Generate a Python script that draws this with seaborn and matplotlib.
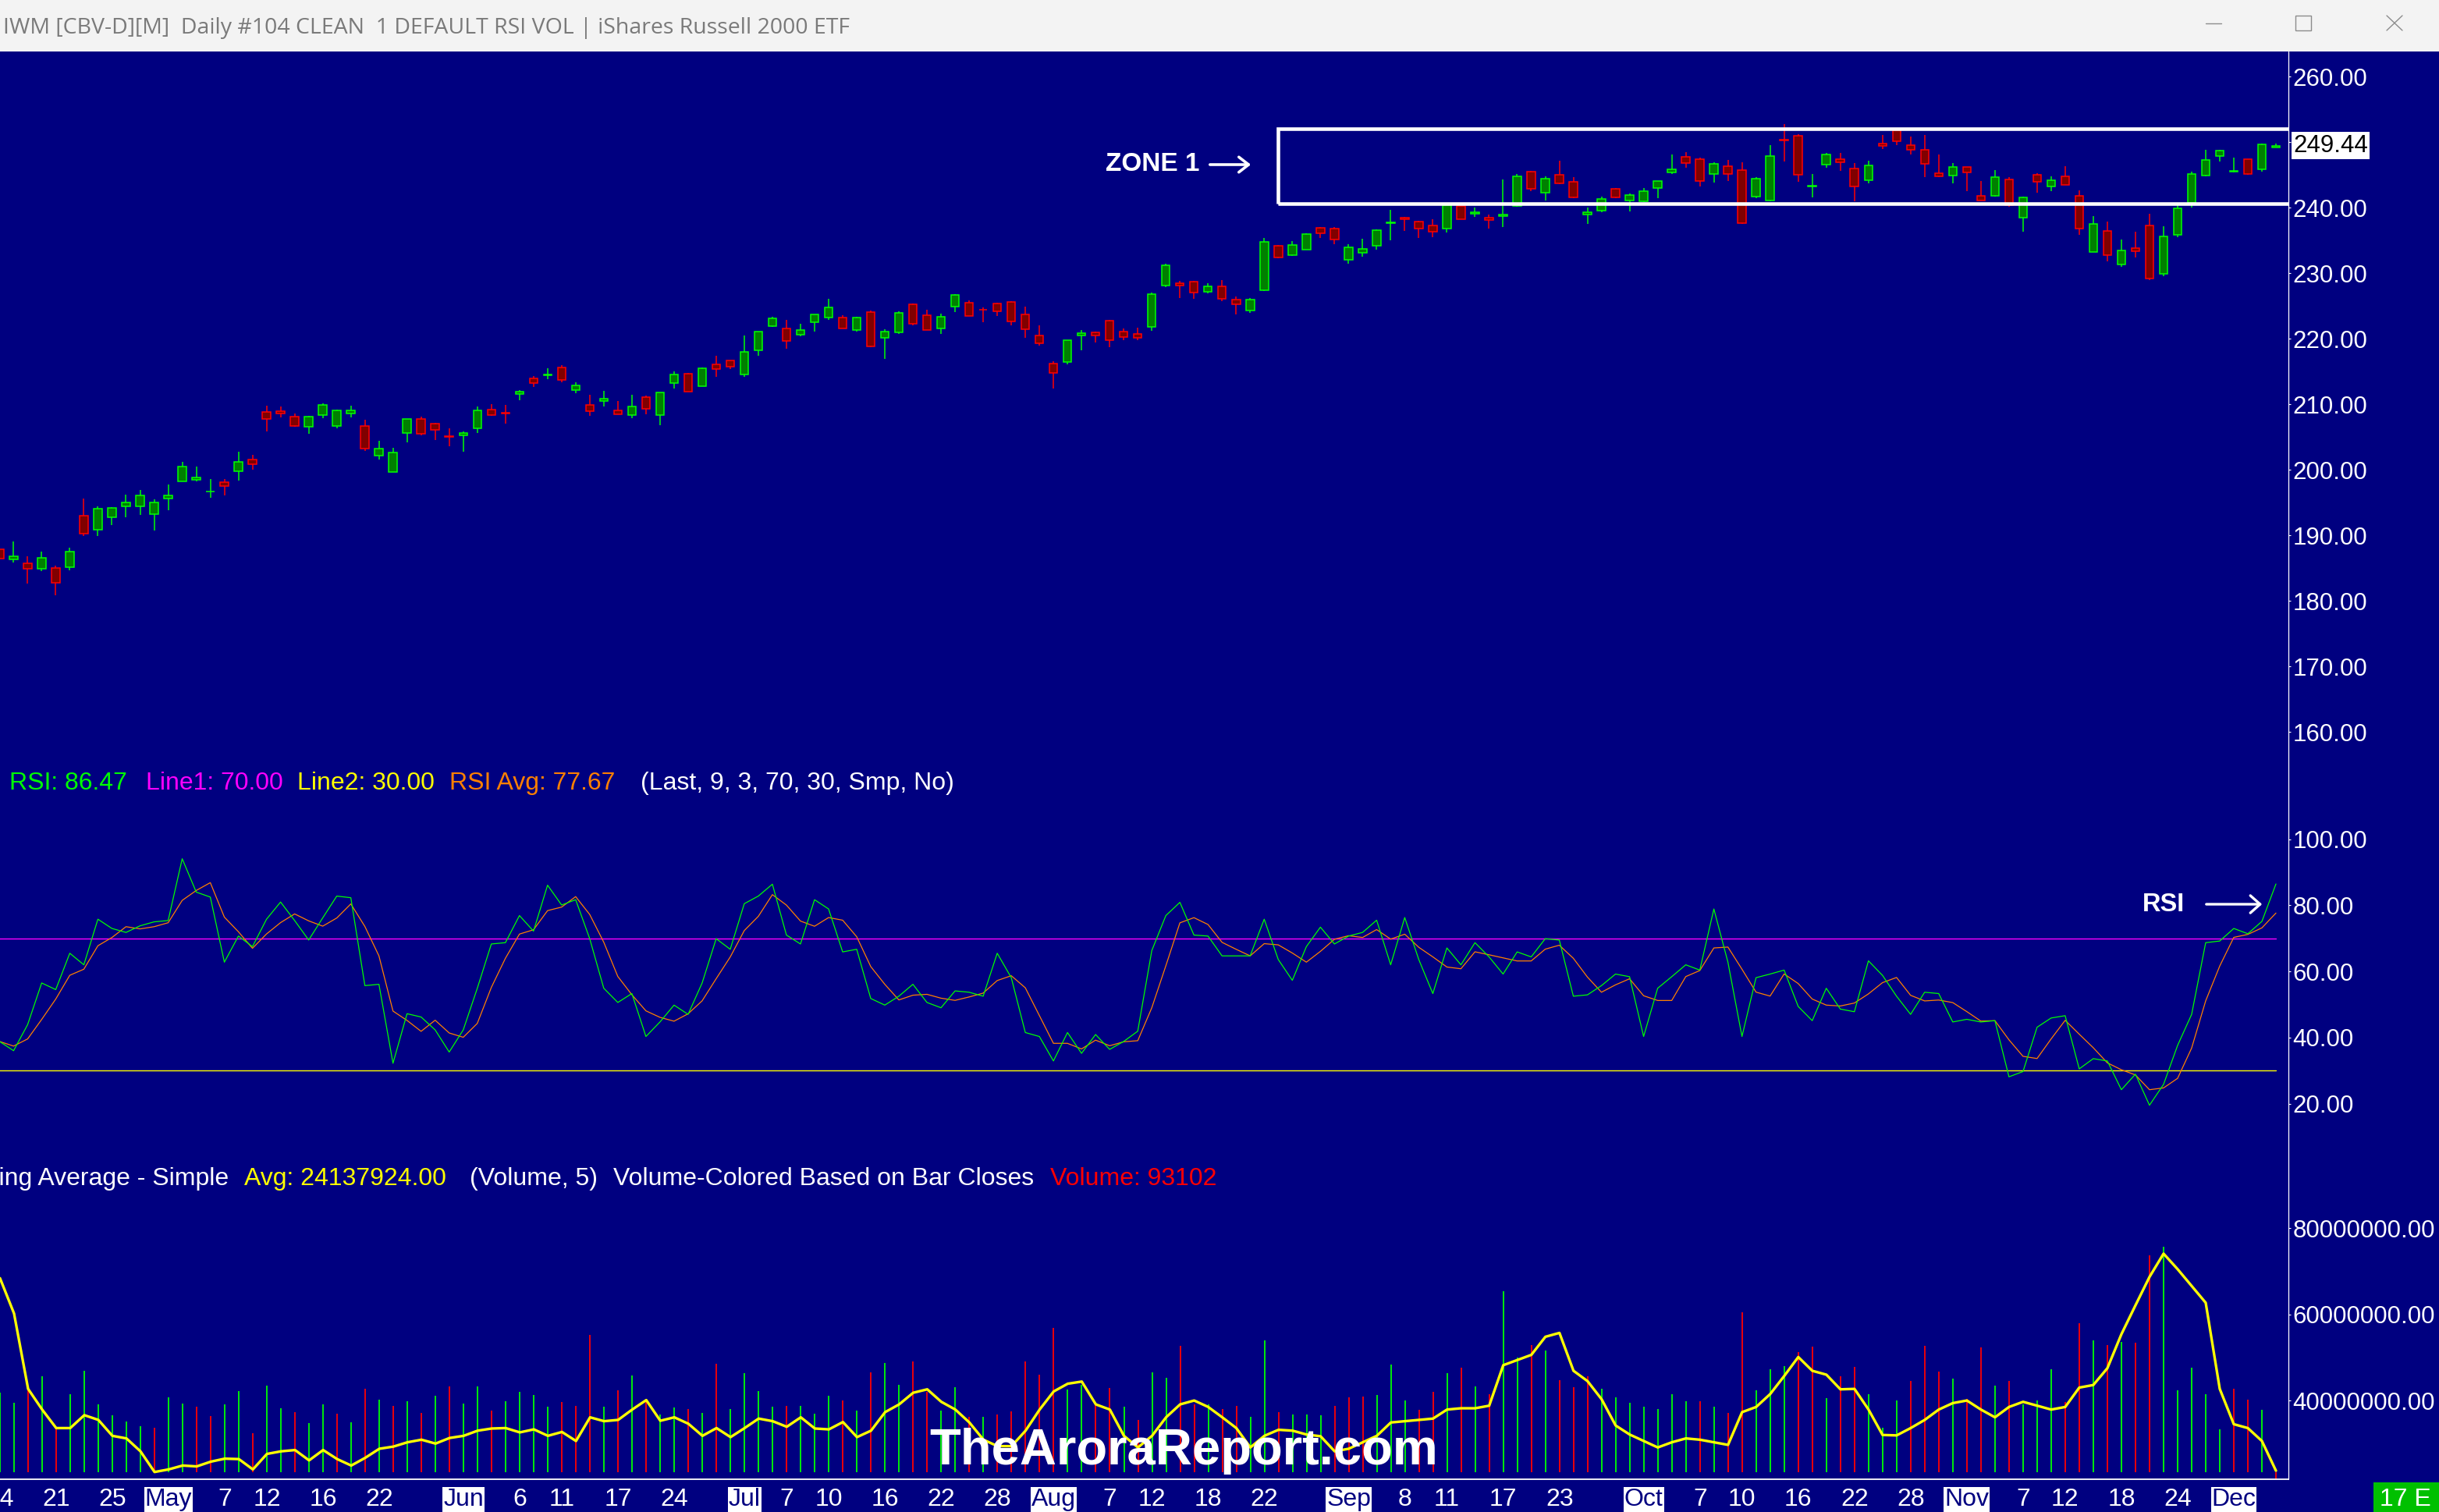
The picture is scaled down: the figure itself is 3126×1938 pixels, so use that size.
import numpy as np
import pandas as pd
import matplotlib
matplotlib.use("Agg")
import matplotlib.pyplot as plt
import matplotlib.transforms as mtransforms
from matplotlib.patches import Rectangle, FancyArrowPatch
from matplotlib.lines import Line2D
import seaborn as sns

# ------------------------------
# Data: IWM daily bars, Apr 14 -> Dec 4
# ------------------------------
opens = [187.82, 186.35, 185.67, 184.92, 184.96, 185.16, 192.94, 190.79, 192.70, 194.44,
         194.44, 193.17, 195.63, 198.25, 198.49, 196.63, 198.05, 199.72, 201.51, 208.77,
         208.89, 208.06, 206.51, 208.37, 206.71, 208.61, 206.63, 202.18, 199.68, 205.63,
         207.70, 206.98, 205.12, 205.28, 206.35, 209.13, 208.69, 211.51, 213.89, 214.44,
         215.56, 212.10, 209.84, 210.44, 209.01, 208.37, 211.03, 208.37, 213.25, 214.60,
         212.78, 216.03, 216.63, 214.56, 218.25, 221.94, 221.51, 220.56, 222.54, 223.25,
         223.17, 221.35, 224.05, 220.16, 220.99, 225.20, 223.53, 221.59, 224.84, 225.44,
         224.45, 225.32, 225.56, 223.65, 220.44, 216.15, 216.47, 220.52, 220.91, 222.70,
         221.03, 220.68, 221.83, 228.14, 228.41, 228.65, 227.18, 227.94, 225.91, 224.33,
         227.34, 234.13, 232.78, 233.61, 236.87, 236.75, 231.99, 233.14, 234.21, 237.66,
         238.45, 237.82, 237.22, 236.75, 240.20, 239.09, 238.41, 238.73, 240.24, 245.48,
         242.22, 244.96, 243.89, 238.89, 239.56, 242.82, 241.03, 240.91, 242.94, 245.32,
         247.70, 247.34, 245.16, 246.27, 245.67, 241.71, 241.11, 250.36, 250.95, 243.25,
         246.59, 247.34, 245.91, 244.21, 249.72, 251.75, 249.52, 248.77, 245.20, 244.92,
         246.15, 241.79, 241.83, 244.29, 238.41, 244.96, 243.25, 244.72, 241.75, 233.25,
         236.39, 231.27, 233.77, 237.22, 229.92, 235.87, 240.71, 244.92, 247.90, 245.52,
         247.34, 245.87, 249.13]
highs = [188.00, 189.05, 186.75, 187.50, 185.36, 188.10, 195.56, 194.36, 194.29, 196.19,
         196.90, 195.48, 197.74, 201.15, 200.48, 198.57, 198.57, 202.74, 202.22, 209.76,
         209.60, 208.53, 208.17, 210.12, 209.17, 209.76, 207.58, 204.40, 203.33, 207.78,
         208.10, 207.14, 206.27, 205.83, 209.60, 210.04, 209.88, 212.14, 214.28, 215.48,
         215.95, 213.33, 211.43, 212.02, 210.48, 211.43, 211.27, 211.83, 215.00, 214.80,
         215.60, 217.38, 216.71, 220.48, 221.11, 223.33, 222.86, 222.26, 223.73, 226.11,
         223.53, 223.37, 224.25, 221.39, 224.13, 225.36, 224.37, 223.77, 226.75, 225.83,
         224.72, 225.48, 225.71, 224.84, 222.02, 216.51, 219.80, 221.27, 221.07, 222.86,
         221.51, 221.67, 226.99, 231.43, 228.81, 228.81, 228.49, 228.93, 226.39, 226.23,
         235.36, 234.29, 234.84, 236.07, 236.99, 237.03, 234.37, 235.24, 236.71, 239.64,
         238.61, 237.94, 238.22, 240.52, 240.32, 240.00, 238.93, 244.29, 245.08, 245.60,
         244.76, 247.14, 244.60, 240.00, 241.63, 242.94, 242.10, 242.98, 244.09, 248.10,
         248.45, 247.62, 246.87, 247.22, 246.87, 244.60, 249.52, 252.74, 251.19, 245.08,
         248.33, 248.33, 246.79, 247.14, 251.03, 251.83, 250.83, 251.03, 248.06, 246.75,
         246.19, 244.09, 245.67, 244.68, 241.71, 245.28, 244.76, 246.27, 242.58, 238.69,
         237.82, 235.12, 236.35, 239.05, 237.14, 240.32, 245.48, 248.81, 248.85, 247.66,
         247.38, 249.72, 249.76]
lows = [183.17, 185.87, 182.66, 184.56, 180.87, 184.68, 189.92, 189.92, 191.59, 192.70,
        193.10, 190.71, 193.81, 198.17, 198.17, 195.75, 196.11, 198.33, 200.04, 205.87,
        207.98, 206.59, 205.48, 207.90, 206.31, 207.98, 202.90, 201.55, 199.68, 204.17,
        205.24, 204.56, 203.60, 202.74, 205.60, 208.25, 207.02, 210.63, 212.62, 213.85,
        213.33, 211.71, 208.25, 209.68, 208.49, 207.90, 208.49, 206.79, 212.42, 211.86,
        212.70, 214.21, 215.36, 214.21, 217.42, 221.79, 218.49, 220.36, 221.07, 222.86,
        221.51, 221.07, 218.69, 216.91, 220.76, 222.06, 221.27, 220.76, 224.05, 223.41,
        222.54, 223.45, 222.06, 220.16, 218.93, 212.42, 216.11, 218.25, 219.45, 218.65,
        219.80, 219.80, 221.23, 227.90, 226.19, 226.07, 226.95, 225.71, 223.73, 223.89,
        227.22, 232.26, 232.66, 233.57, 235.40, 234.45, 231.47, 232.54, 233.61, 235.04,
        236.47, 235.40, 235.52, 236.23, 238.17, 238.61, 236.83, 237.02, 240.16, 242.54,
        241.11, 243.57, 241.43, 237.54, 239.33, 241.43, 239.44, 240.83, 241.43, 245.08,
        246.07, 243.25, 243.85, 244.09, 237.54, 241.43, 240.91, 247.06, 243.97, 241.51,
        246.07, 245.56, 240.99, 243.69, 248.97, 249.52, 248.14, 244.64, 244.68, 243.69,
        242.50, 241.03, 241.71, 240.12, 236.35, 242.30, 242.50, 243.41, 235.87, 233.17,
        231.79, 230.99, 232.38, 228.93, 229.56, 235.48, 240.00, 244.76, 247.06, 245.36,
        245.00, 245.48, 249.13]
closes = [186.47, 186.75, 184.92, 186.51, 182.70, 187.46, 190.20, 194.01, 194.13, 194.96,
          196.03, 194.96, 196.03, 200.44, 198.85, 196.71, 197.46, 201.15, 200.79, 207.78,
          208.61, 206.71, 208.06, 209.84, 209.01, 209.01, 203.17, 203.17, 202.58, 207.70,
          205.52, 206.11, 205.04, 205.63, 209.01, 208.37, 208.53, 211.86, 213.25, 214.52,
          213.65, 212.82, 208.89, 210.79, 208.49, 209.60, 209.25, 211.75, 214.48, 211.94,
          215.44, 215.40, 215.75, 217.94, 221.03, 223.06, 219.68, 221.27, 223.65, 224.72,
          221.59, 223.17, 218.77, 221.03, 223.89, 222.30, 221.35, 223.29, 226.63, 223.49,
          224.37, 224.13, 222.66, 221.47, 219.33, 214.80, 219.72, 220.79, 220.52, 219.80,
          220.28, 220.16, 226.75, 231.15, 228.14, 227.06, 227.94, 226.11, 225.28, 225.91,
          234.72, 232.34, 234.25, 235.91, 236.11, 235.08, 233.89, 233.65, 236.51, 237.74,
          238.18, 236.75, 236.35, 240.32, 238.25, 239.25, 238.13, 238.93, 244.76, 242.90,
          244.37, 243.73, 241.51, 239.25, 241.27, 241.51, 241.90, 242.46, 244.01, 245.79,
          246.75, 244.09, 246.63, 245.08, 237.66, 244.37, 247.82, 250.28, 244.96, 243.33,
          248.06, 246.94, 243.25, 246.39, 249.37, 250.16, 248.85, 246.71, 244.80, 246.15,
          245.40, 241.11, 244.60, 240.32, 241.51, 243.97, 244.13, 243.49, 236.75, 237.46,
          232.70, 233.41, 233.37, 229.13, 235.56, 239.84, 245.08, 247.22, 248.65, 245.60,
          245.08, 249.60, 249.44]

# RSI(9) as drawn (green line)
rsi = [38.8, 36.0, 43.9, 56.5, 54.5, 65.5, 62.0, 75.8, 73.0, 71.8,
       73.8, 75.0, 75.4, 94.1, 84.0, 82.5, 62.8, 70.7, 67.5, 75.8,
       81.0, 75.4, 69.5, 76.2, 82.8, 82.3, 55.7, 56.1, 32.2, 47.2,
       46.2, 42.3, 35.6, 42.3, 54.9, 68.3, 68.7, 76.9, 72.2, 86.1,
       80.1, 81.7, 69.9, 54.9, 50.6, 53.3, 40.3, 44.7, 49.8, 47.0,
       56.5, 69.9, 66.7, 80.5, 82.8, 86.4, 71.0, 68.3, 81.7, 78.9,
       65.9, 66.7, 51.8, 49.8, 52.5, 56.1, 50.6, 49.0, 54.1, 53.7,
       52.5, 65.5, 58.1, 41.5, 40.3, 32.9, 41.5, 35.2, 40.9, 36.4,
       38.8, 41.9, 66.3, 76.9, 80.9, 71.0, 70.7, 64.7, 64.7, 64.7,
       75.8, 63.6, 57.3, 67.5, 73.4, 68.3, 70.7, 71.8, 75.5, 62.0,
       76.3, 63.6, 53.3, 67.1, 62.0, 68.7, 64.4, 59.2, 65.9, 64.4,
       69.9, 69.5, 52.5, 52.9, 55.7, 59.2, 58.4, 40.3, 54.9, 58.4,
       62.0, 60.4, 78.9, 62.8, 40.3, 58.1, 59.2, 60.4, 49.4, 45.1,
       54.9, 48.6, 47.8, 63.2, 58.8, 52.5, 47.0, 53.7, 53.3, 44.7,
       45.5, 44.7, 45.1, 28.1, 29.7, 43.1, 45.9, 46.6, 30.5, 33.6,
       32.9, 24.2, 28.9, 19.5, 25.8, 37.6, 47.0, 68.7, 69.2, 73.0,
       71.4, 75.13, 86.47]

# volume in millions of shares
volume_m = [41.8, 39.5, 42.7, 45.6, 33.8, 41.4, 46.9, 39.1, 36.6, 35.2,
            34.1, 33.7, 40.7, 39.3, 38.5, 36.4, 39.1, 42.2, 32.4, 43.4,
            38.2, 37.3, 34.7, 39.1, 37.0, 34.9, 42.7, 40.2, 38.7, 39.9,
            37.2, 41.1, 43.2, 39.3, 43.3, 37.7, 39.9, 42.1, 41.3, 38.5,
            39.7, 38.7, 55.2, 38.5, 42.3, 45.8, 39.8, 36.8, 38.3, 38.1,
            37.2, 48.5, 38.1, 46.3, 42.2, 38.5, 38.7, 38.8, 37.0, 41.1,
            40.1, 37.7, 46.6, 48.7, 43.6, 49.1, 42.1, 37.7, 43.1, 36.3,
            36.3, 36.7, 37.5, 49.0, 46.0, 56.9, 42.5, 43.6, 39.1, 42.9,
            38.5, 35.5, 46.5, 45.3, 52.7, 39.2, 39.1, 38.1, 38.8, 36.2,
            54.0, 37.3, 36.7, 36.7, 36.6, 38.7, 40.8, 40.9, 41.3, 48.3,
            40.0, 37.9, 42.0, 46.3, 47.6, 43.3, 41.5, 65.4, 49.9, 52.9,
            51.6, 44.8, 43.1, 45.6, 42.7, 40.8, 39.4, 38.5, 38.0, 41.5,
            39.9, 39.9, 38.5, 37.2, 60.5, 42.4, 47.2, 47.9, 51.2, 52.6,
            40.6, 45.6, 47.8, 41.4, 33.7, 40.0, 44.5, 52.7, 46.7, 45.1,
            40.3, 52.4, 43.4, 44.6, 39.1, 40.0, 47.2, 39.6, 57.9, 54.0,
            52.8, 53.6, 53.4, 73.7, 75.7, 42.4, 47.7, 41.5, 33.4, 42.8,
            40.2, 37.9, 0.093102]
# yellow moving-average line, as drawn on the volume scale (millions)
volume_avg_m = [68.4, 60.2, 42.7, 37.9, 33.6, 33.6, 36.6, 35.5, 31.8, 31.2,
                28.2, 23.4, 24.0, 24.9, 24.7, 25.8, 26.5, 26.4, 24.0, 27.6,
                28.2, 28.5, 26.1, 28.5, 26.4, 24.9, 26.7, 28.8, 29.3, 30.3,
                30.9, 30.0, 31.3, 31.8, 33.0, 33.5, 33.6, 32.6, 33.3, 31.8,
                32.7, 30.6, 36.1, 35.2, 35.5, 37.9, 40.1, 35.3, 36.1, 34.6,
                31.8, 33.6, 31.5, 33.6, 35.8, 35.2, 33.9, 36.1, 33.5, 33.3,
                35.0, 31.5, 33.0, 37.3, 39.1, 41.8, 42.6, 39.7, 37.9, 34.9,
                30.9, 29.4, 29.4, 33.0, 37.9, 42.1, 43.9, 44.4, 39.1, 37.9,
                31.8, 29.1, 31.8, 36.1, 39.1, 40.0, 38.5, 36.1, 33.6, 29.1,
                31.8, 33.2, 33.0, 32.1, 31.7, 28.2, 28.8, 30.3, 31.8, 34.9,
                35.2, 35.5, 35.8, 37.9, 38.2, 38.2, 38.8, 48.2, 49.4, 50.6,
                54.8, 55.7, 46.9, 44.5, 40.3, 34.2, 32.1, 30.6, 29.1, 30.3,
                31.2, 30.9, 30.3, 29.7, 37.3, 38.5, 41.5, 45.7, 50.1, 46.9,
                46.0, 42.6, 42.7, 37.9, 32.0, 31.9, 33.6, 35.5, 37.9, 39.4,
                40.0, 37.9, 36.1, 38.5, 39.7, 38.8, 37.9, 38.5, 43.0, 43.6,
                47.5, 55.4, 62.1, 68.7, 74.1, 70.5, 66.6, 62.7, 42.7, 34.5,
                33.6, 30.6, 23.7]
volume_avg_last = 24137924.00

date_ticks = [0, 4, 8, 12, 16, 19, 23, 27, 33, 37, 40, 44, 48, 53, 56, 59, 63, 67, 71,
              75, 79, 82, 86, 90, 96, 100, 103, 107, 111, 117, 121, 124, 128, 132, 136,
              140, 144, 147, 151, 155, 159]
date_text = ["14", "21", "25", "May", "7", "12", "16", "22", "Jun", "6", "11", "17", "24",
             "Jul", "7", "10", "16", "22", "28", "Aug", "7", "12", "18", "22", "Sep", "8",
             "11", "17", "23", "Oct", "7", "10", "16", "22", "28", "Nov", "7", "12", "18",
             "24", "Dec"]
month_names = {"May", "Jun", "Jul", "Aug", "Sep", "Oct", "Nov", "Dec"}

zone_low, zone_high = 240.65, 252.08
last_price = 249.44

price_ticks = [260, 250, 240, 230, 220, 210, 200, 190, 180, 170, 160]
rsi_ticks = [100, 80, 60, 40, 20]
vol_ticks = [80, 60, 40]

df = pd.DataFrame({"bar": np.arange(len(closes)), "open": opens, "high": highs,
                   "low": lows, "close": closes, "rsi": rsi,
                   "volume": volume_m, "vol_avg": volume_avg_m})
df["rsi_avg"] = df["rsi"].rolling(3, min_periods=1).mean()
df["up"] = df["close"] >= df["open"]
df["vol_up"] = df["close"].diff().fillna(1) >= 0

# ------------------------------
# Style
# ------------------------------
NAVY = "#000080"
LIME = "#00ff00"
RED = "#ff0000"
sns.set_style("dark", {"axes.facecolor": NAVY, "figure.facecolor": NAVY})
plt.rcParams["font.family"] = ["Liberation Sans", "DejaVu Sans"]

W, H = 3126, 1938
fig = plt.figure(figsize=(W / 100, H / 100), dpi=100, facecolor=NAVY)


def fx(px):
    return px / W


def fy(py):
    return 1 - py / H


PLOT_R = 2933          # right edge of plotting area (px)
BAR_PX = 18.01         # bar spacing (px)
X0 = -0.6              # pixel x of first bar
xlim = ((0 - X0) / BAR_PX, (PLOT_R - X0) / BAR_PX)

ax_p = fig.add_axes([0, fy(980), fx(PLOT_R), (980 - 66) / H])
ax_r = fig.add_axes([0, fy(1450), fx(PLOT_R), (1450 - 985) / H])
ax_v = fig.add_axes([0, fy(1896), fx(PLOT_R), (1896 - 1490) / H])

for ax in (ax_p, ax_r, ax_v):
    ax.set_facecolor(NAVY)
    ax.set_xlim(*xlim)
    for s in ax.spines.values():
        s.set_visible(False)
    ax.grid(False)
    ax.yaxis.tick_right()
    ax.tick_params(axis="y", colors="white", labelcolor="white", labelsize=22.5,
                   length=2.5, width=0.8, pad=1.5, direction="out")

# ------------------------------
# Price panel: candles
# ------------------------------
ax_p.set_ylim(260 - (980 - 98) / 8.4, 260 + (98 - 66) / 8.4)
body_lo = df[["open", "close"]].min(axis=1)
body_h = (df["close"] - df["open"]).abs()
edge = np.where(df["up"], LIME, RED)
fill = np.where(df["up"], "#008000", "#800000")
ax_p.vlines(df["bar"], df["low"], df["high"], colors=edge, linewidth=1.1, zorder=2)
ax_p.bar(df["bar"], body_h, bottom=body_lo, width=0.58, color=fill,
         edgecolor=edge, linewidth=1.1, zorder=3)
ax_p.add_patch(Rectangle((90.98, zone_low), 100, zone_high - zone_low, fill=False,
                         edgecolor="white", linewidth=3.3, zorder=4))
ax_p.set_yticks(price_ticks)
ax_p.set_yticklabels(["" if t == 250 else f"{t:.2f}" for t in price_ticks])
ax_p.set_xticks([])
blend_p = mtransforms.blended_transform_factory(ax_p.transAxes, ax_p.transData)
ax_p.text(1 + 6 / PLOT_R, last_price, f"{last_price:.2f}", transform=blend_p,
          ha="left", va="center", fontsize=22.5, color="black",
          bbox=dict(boxstyle="square,pad=0.08", fc="white", ec="none"))

# ------------------------------
# RSI panel
# ------------------------------
ax_r.set_ylim(100 - (1450 - 1075.7) / 4.235, 100 + (1075.7 - 985) / 4.235)
last_bar = df["bar"].iloc[-1]
ax_r.plot([0, last_bar], [70, 70], color="#ff00ff", linewidth=1.0, zorder=1)
ax_r.plot([0, last_bar], [30, 30], color="#ffff00", linewidth=1.0, zorder=1)
sns.lineplot(data=df, x="bar", y="rsi", ax=ax_r, color=LIME, linewidth=0.9, zorder=3)
sns.lineplot(data=df, x="bar", y="rsi_avg", ax=ax_r, color="#ff8000", linewidth=0.9, zorder=2)
ax_r.set_yticks(rsi_ticks)
ax_r.set_yticklabels([f"{t:.2f}" for t in rsi_ticks])
ax_r.set_xticks([])
ax_r.set_xlabel("")
ax_r.set_ylabel("")

# ------------------------------
# Volume panel
# ------------------------------
vol_floor = 80 - (1887 - 1574.3) / 5.52
ax_v.set_ylim(80 - (1896 - 1574.3) / 5.52, 80 + (1574.3 - 1490) / 5.52)
vcol = np.where(df["vol_up"], LIME, RED)
ax_v.vlines(df["bar"], vol_floor, df["volume"], colors=vcol, linewidth=1.3, zorder=2)
sns.lineplot(data=df, x="bar", y="vol_avg", ax=ax_v, color="#ffff00", linewidth=2.4, zorder=3)
ax_v.set_yticks(vol_ticks)
ax_v.set_yticklabels([f"{t * 1e6:.2f}" for t in vol_ticks])
ax_v.set_xticks(date_ticks)
ax_v.set_xticklabels([])
ax_v.tick_params(axis="x", colors="white", length=2.5, width=0.8, direction="out")
ax_v.set_xlabel("")
ax_v.set_ylabel("")

blend_x = mtransforms.blended_transform_factory(ax_v.transData, fig.transFigure)
for b, t in zip(date_ticks, date_text):
    if t in month_names:
        ax_v.text(b, fy(1930), t, transform=blend_x, ha="center", va="baseline",
                  fontsize=23, color=NAVY, clip_on=False,
                  bbox=dict(boxstyle="square,pad=0.03", fc="white", ec="none"))
    else:
        ax_v.text(b, fy(1930), t, transform=blend_x, ha="center", va="baseline",
                  fontsize=23, color="white", clip_on=False)

# ------------------------------
# Frame lines, headers, notes
# ------------------------------
fig.add_artist(Line2D([fx(PLOT_R), fx(PLOT_R)], [fy(66), fy(1896)], color="white", lw=0.9))
fig.add_artist(Line2D([0, fx(PLOT_R)], [fy(1896), fy(1896)], color="white", lw=1.3))

# title bar
fig.add_artist(Rectangle((0, fy(66)), 1, 66 / H, transform=fig.transFigure,
                         fc="#f3f3f3", ec="none"))
fig.text(fx(4), fy(43), "IWM [CBV-D][M]  Daily #104 CLEAN  1 DEFAULT RSI VOL | iShares Russell 2000 ETF",
         fontsize=20.5, color="#7a7a7a", va="baseline", family=["Open Sans", "DejaVu Sans"])
gray = "#8c8c8c"
fig.add_artist(Line2D([fx(2827), fx(2847)], [fy(30), fy(30)], color=gray, lw=1.0))
fig.add_artist(Rectangle((fx(2942), fy(39)), 20 / W, 19 / H, transform=fig.transFigure,
                         fill=False, ec=gray, lw=1.0))
fig.add_artist(Line2D([fx(3059), fx(3079)], [fy(20), fy(39)], color=gray, lw=1.0))
fig.add_artist(Line2D([fx(3059), fx(3079)], [fy(39), fy(20)], color=gray, lw=1.0))

# RSI header
rsi_parts = [(12, f"RSI: {rsi[-1]:.2f}", LIME), (187, "Line1: 70.00", "#ff00ff"),
             (381, "Line2: 30.00", "#ffff00"),
             (576, f"RSI Avg: {df['rsi_avg'].iloc[-1]:.2f}", "#ff8000"),
             (821, "(Last, 9, 3, 70, 30, Smp, No)", "white")]
for x, s, c in rsi_parts:
    fig.text(fx(x), fy(1012), s, color=c, fontsize=23, va="baseline")

# volume header (the chart clips the start of "Moving")
fig.text(fx(293), fy(1519), "Moving Average - Simple", color="white", fontsize=23,
         va="baseline", ha="right")
vol_parts = [(313, f"Avg: {volume_avg_last:.2f}", "#ffff00"), (602, "(Volume, 5)", "white"),
             (786, "Volume-Colored Based on Bar Closes", "white"),
             (1346, f"Volume: {volume_m[-1] * 1e6:.0f}", RED)]
for x, s, c in vol_parts:
    fig.text(fx(x), fy(1519), s, color=c, fontsize=23, va="baseline")

# annotations
fig.text(fx(1417), fy(219), "ZONE 1", color="white", fontsize=24, fontweight="bold",
         va="baseline")
fig.add_artist(FancyArrowPatch((fx(1548), fy(211)), (fx(1606), fy(211)),
                               transform=fig.transFigure, color="white", lw=2.6,
                               arrowstyle="->,head_length=9,head_width=7", mutation_scale=1))
fig.text(fx(2746), fy(1168), "RSI", color="white", fontsize=23.5, fontweight="bold",
         va="baseline")
fig.add_artist(FancyArrowPatch((fx(2825), fy(1159)), (fx(2902), fy(1159)),
                               transform=fig.transFigure, color="white", lw=2.4,
                               arrowstyle="->,head_length=9,head_width=8", mutation_scale=1))
fig.text(fx(1191), fy(1877), "TheAroraReport.com", color="white", fontsize=47,
         fontweight="bold", va="baseline")

# bottom-right box
fig.add_artist(Rectangle((fx(3042), 0), 84 / W, 38 / H, transform=fig.transFigure,
                         fc="#00c000", ec="none"))
fig.text(fx(3050), fy(1930), "17 E", color="white", fontsize=23, va="baseline")

fig.savefig("out.png", dpi=100, facecolor=NAVY)
